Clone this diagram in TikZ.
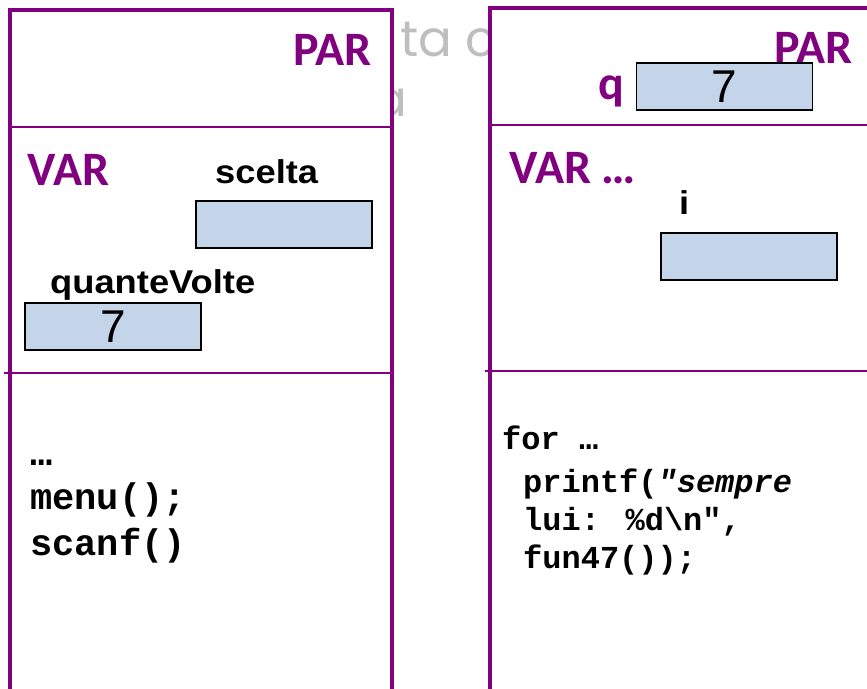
\documentclass[tikz,border=0pt]{standalone}
\usepackage{fontspec}
\setmainfont{Liberation Sans}
\newfontfamily\kwfont{Carlito}
\newfontfamily\namefont[FakeStretch=1.1]{Liberation Sans}
\newfontfamily\codefont{Liberation Mono}
\newfontfamily\handfont{Poppins}
\usetikzlibrary{positioning}
\definecolor{frameviolet}{RGB}{128,0,128}
\definecolor{cellblue}{RGB}{197,213,233}
\definecolor{faintgrey}{RGB}{190,190,190}

\begin{document}
\begin{tikzpicture}[x=1pt, y=-1pt,
		frame/.style={draw=frameviolet, line width=3.2pt, fill=white},
		sep/.style={draw=frameviolet, line width=2pt},
		cell/.style={draw=black, line width=1.8pt, fill=cellblue, minimum width=176pt, minimum height=47pt, inner sep=0pt, font=\fontsize{46}{46}\selectfont},
		kw/.style={text=frameviolet, inner sep=0pt, font=\kwfont\bfseries\fontsize{48}{48}\selectfont},
		varname/.style={inner sep=0pt, anchor=base west, font=\namefont\bfseries\fontsize{33}{33}\selectfont},
		codeL/.style={inner sep=0pt, anchor=base west, font=\codefont\bfseries\fontsize{37}{37}\selectfont},
		codeR/.style={inner sep=0pt, anchor=base west, font=\codefont\bfseries\fontsize{32}{32}\selectfont},
		hand/.style={text=faintgrey, inner sep=0pt, font=\handfont\fontsize{50}{50}\selectfont}]
		\useasboundingbox (0,0) rectangle (867,688);
		\clip (0,0) rectangle (867,688);

		% faint text behind the frames
		\node[hand, anchor=base west] (bg1) at (400,56) {ta c};
		\node[hand, anchor=base east] (bg2) at (407,116) {a};

		% the two frames
		\draw[frame] (10,10) rectangle (392,700);
		\draw[frame] (490,8) rectangle (880,700);
		\draw[sep] (10,127) -- (392,127);
		\draw[sep] (4,373) -- (392,373);
		\draw[sep] (490,125) -- (867,125);
		\draw[sep] (485,371) -- (867,371);

		% left frame
		\node[kw, anchor=base east] (parL) at (372,65) {PAR};
		\node[kw, anchor=base west] (varL) at (27,185) {VAR};
		\node[cell] (scelta) at (284,224.5) {};
		\node[varname] (sceltaname) at (215,183) {scelta};
		\node[cell] (quante) at (113,326.5) {7};
		\node[varname] (quantename) at (50,293) {quanteVolte};
		\node[codeL] (dotsL) at (30,465) {…};
		\node[codeL] (menu) at (30,509) {menu();};
		\node[codeL] (scanf) at (30,555) {scanf()};

		% right frame
		\node[kw, anchor=base east] (parR) at (853,63) {PAR};
		\node[cell] (qcell) at (724.5,86.5) {7};
		\node[kw, left=11pt of qcell.west, anchor=east, yshift=-5pt] (qname) {q};
		\node[kw, anchor=base west] (varR) at (509,183) {VAR …};
		\node[varname] (iname) at (679,214) {i};
		\node[cell] (icell) at (749,256.5) {};
		\node[codeR] (forline) at (502,449) {for …};
		\node[codeR] (printline) at (523,492) {printf(\textit{"sempre}};
		\node[codeR] (luiline) at (523,530) {lui: \%d\textbackslash n",};
		\node[codeR] (funline) at (523,568) {fun47());};
	\end{tikzpicture}
\end{document}
